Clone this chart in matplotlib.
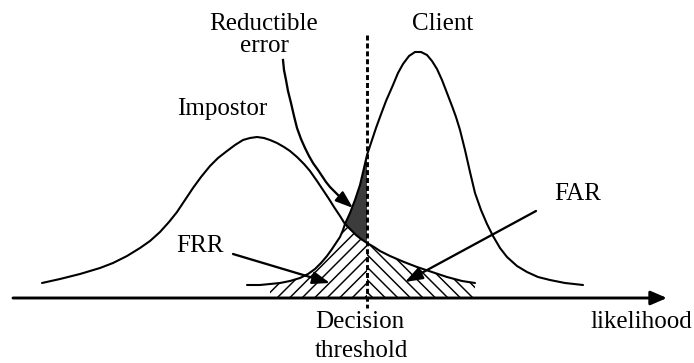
import numpy as np
import matplotlib
matplotlib.use("Agg")
import matplotlib.pyplot as plt

# diagram drawn in picture units (x to the right, y downward)
impostor_x = [42, 60, 80, 100, 113, 127, 140, 150, 160, 169, 177, 185, 193, 201, 210, 218, 227, 235, 243, 250,
              257, 264, 270, 277, 284, 290, 297, 304, 310, 317, 323, 329, 334, 340, 345, 350, 356, 361, 367, 374,
              380, 390, 404, 417, 432, 447, 462, 475]
impostor_y = [283, 279, 274, 268, 263, 256, 248, 241, 232, 222, 212, 200, 188, 177, 166, 158, 151, 145, 140, 138,
              137, 138, 140, 143, 147, 151, 157, 164, 171, 181, 190, 199, 207, 216, 224, 229, 235, 239, 243, 247,
              251, 256, 262, 267, 272, 277, 281, 283]

client_x = [247, 260, 270, 280, 290, 300, 308, 315, 321, 327, 332, 336, 340, 343, 345, 350, 355, 360, 364, 367,
            372, 376, 380, 386, 393, 398, 403, 409, 415, 421, 427, 432, 437, 442, 447, 452, 456, 460, 465, 470,
            475, 481, 487, 493, 500, 507, 517, 527, 538, 550, 565, 583]
client_y = [285, 285, 284, 283, 281, 278, 274, 269, 263, 256, 249, 243, 237, 230, 224, 213, 200, 185, 168, 155,
            140, 128, 117, 101, 85, 73, 64, 56, 52, 52, 55, 61, 69, 80, 93, 106, 117, 130, 150, 172,
            193, 210, 224, 236, 248, 257, 266, 272, 277, 280, 283, 285]

cross_x = 345        # where the two curves meet
threshold_x = 367    # decision threshold
hatch_start = 270
hatch_end = 475

reductible_x = [283, 284, 286, 288, 291, 294, 297, 301, 305, 309, 313, 318, 322, 326, 330, 335, 340]
reductible_y = [60, 70, 80, 91, 103, 116, 128, 139, 148, 156, 163, 170, 176, 182, 187, 192, 197]
reductible_tip = (353, 208)

frr_from, frr_to = (233, 254), (330, 283)
far_from, far_to = (536, 211), (405, 282)

labels = [
    ("Reductible", 264, 30, "center"),
    ("error", 264, 52, "center"),
    ("Client", 443, 30, "center"),
    ("Impostor", 222, 115, "center"),
    ("FRR", 200, 252, "center"),
    ("FAR", 578, 200, "center"),
    ("Decision", 360, 328, "center"),
    ("threshold", 361, 357, "center"),
    ("likelihood", 692, 328, "right"),
]

plt.rcParams["hatch.linewidth"] = 0.7
plt.rcParams["lines.scale_dashes"] = False

W, H = 694, 363
fig = plt.figure(figsize=(W / 150, H / 150), dpi=150)
ax = fig.add_axes([0, 0, 1, 1])
ax.set_xlim(0, W)
ax.set_ylim(H, 0)
ax.axis("off")

ix, iy = np.array(impostor_x), np.array(impostor_y)
cx, cy = np.array(client_x), np.array(client_y)
base = 297

# hatched part left of threshold: under client up to crossing, then under impostor
m1 = (cx >= hatch_start) & (cx <= cross_x)
m2 = (ix > cross_x) & (ix <= threshold_x)
left_x = np.concatenate([cx[m1], ix[m2], [threshold_x, hatch_start]])
left_y = np.concatenate([cy[m1], iy[m2], [base, base]])
ax.fill(left_x, left_y, facecolor="none", edgecolor="black", linewidth=0, hatch="////")

# hatched part right of threshold, under impostor
m3 = (ix >= threshold_x) & (ix <= hatch_end)
right_x = np.concatenate([ix[m3], [hatch_end, threshold_x]])
right_y = np.concatenate([iy[m3], [base, base]])
ax.fill(right_x, right_y, facecolor="none", edgecolor="black", linewidth=0, hatch="\\\\\\\\")

# dark "reductible error" region
m4 = (cx >= cross_x) & (cx <= threshold_x)
m5 = (ix > cross_x) & (ix <= threshold_x)
dark_x = np.concatenate([cx[m4], ix[m5][::-1]])
dark_y = np.concatenate([cy[m4], iy[m5][::-1]])
ax.fill(dark_x, dark_y, color="#3c3c3c", linewidth=0)

ax.plot(impostor_x, impostor_y, color="black", lw=1.0, solid_capstyle="round", solid_joinstyle="round")
ax.plot(client_x, client_y, color="black", lw=1.0, solid_capstyle="round", solid_joinstyle="round")

# threshold
ax.plot([threshold_x, threshold_x], [35, 308], color="black", lw=1.4, dashes=(2.4, 1.4))

# likelihood axis
ax.annotate("", xy=(667, 298), xytext=(13, 298),
            arrowprops=dict(arrowstyle="-|>,head_length=0.65,head_width=0.28",
                            color="black", lw=1.4, mutation_scale=10, shrinkA=0, shrinkB=0))

# pointers
ax.plot(reductible_x, reductible_y, color="black", lw=1.1, solid_joinstyle="round")
ax.annotate("", xy=reductible_tip, xytext=(reductible_x[-1], reductible_y[-1]),
            arrowprops=dict(arrowstyle="-|>,head_length=0.7,head_width=0.25",
                            color="black", lw=1.1, mutation_scale=10, shrinkA=0, shrinkB=0))
for a, b in [(frr_from, frr_to), (far_from, far_to)]:
    ax.annotate("", xy=b, xytext=a,
                arrowprops=dict(arrowstyle="-|>,head_length=0.7,head_width=0.25",
                                color="black", lw=1.1, mutation_scale=10, shrinkA=0, shrinkB=0))

for txt, x, y, ha in labels:
    ax.text(x, y, txt, ha=ha, va="baseline", fontsize=12,
            family="Liberation Serif", color="black")

fig.savefig("out.png", dpi=150)
